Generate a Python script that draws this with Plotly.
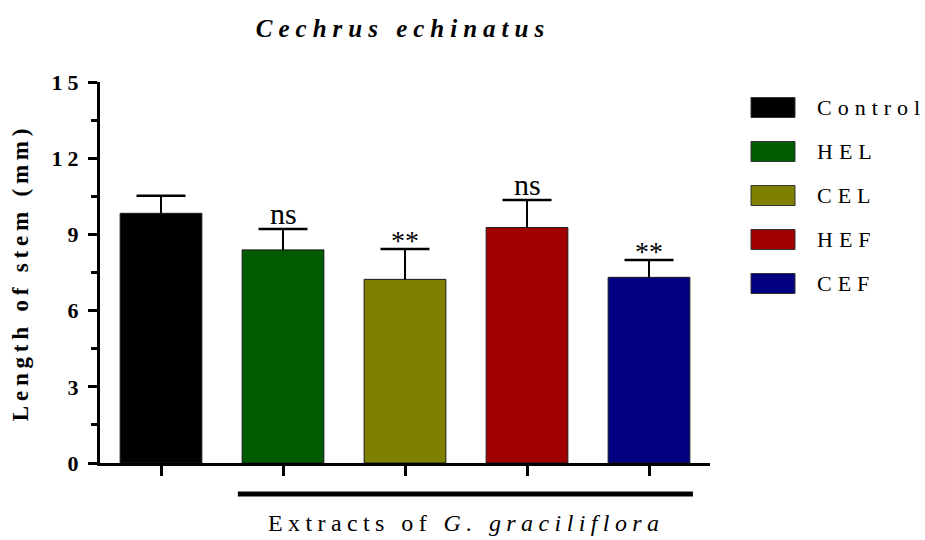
import plotly.graph_objects as go

# ---------------------------------------------------------
# Data
# ---------------------------------------------------------
grupos = ["Control", "HEL", "CEL", "HEF", "CEF"]
medias = [9.83, 8.39, 7.23, 9.27, 7.31]
errores = [0.69, 0.82, 1.20, 1.08, 0.68]
signif = ["", "ns", "**", "ns", "**"]
colores = ["#000000", "#005a00", "#808000", "#a00000", "#000080"]
y_ticks = [0, 3, 6, 9, 12, 15]

FUENTE = "Liberation Serif, Times New Roman, serif"


def espaciado(texto, px):
    # letter spacing like the original (GraphPad style)
    return f'<span style="letter-spacing:{px}px">{texto}</span>'


# plot area in pixels: x 100..710, y 82..463
def px_x(p):
    return (p - 100) / 610


def px_y(p):
    return (463 - p) / 381


fig = go.Figure()

fig.add_trace(go.Bar(
    x=grupos,
    y=medias,
    marker=dict(color=colores, line=dict(color="#1a1a1a", width=1)),
    width=0.67,
    error_y=dict(
        type="data",
        symmetric=False,
        array=errores,
        arrayminus=[0] * len(errores),
        color="black",
        thickness=2,
        width=0
    ),
    showlegend=False
))

# caps of the (upper only) error bars
fig.add_trace(go.Scatter(
    x=grupos,
    y=[m + e for m, e in zip(medias, errores)],
    mode="markers",
    marker=dict(symbol="line-ew-open", size=35, color="black",
                line=dict(color="black", width=2.5)),
    hoverinfo="skip",
    showlegend=False
))

# significance marks above the error bars
for g, m, e, s in zip(grupos, medias, errores, signif):
    if not s:
        continue
    fig.add_annotation(
        x=g, y=m + e, xref="x", yref="y",
        text=s, showarrow=False,
        yanchor="bottom",
        yshift=-9 if s == "**" else -3,
        font=dict(family=FUENTE, size=30 if s == "ns" else 28, color="black")
    )

# custom legend (large swatches)
for i, (g, c) in enumerate(zip(grupos, colores)):
    yc = 107.5 + 44 * i
    fig.add_shape(
        type="rect", xref="paper", yref="paper",
        x0=px_x(751), x1=px_x(795), y0=px_y(yc + 10), y1=px_y(yc - 10),
        fillcolor=c, line=dict(color="#333333", width=1)
    )
    fig.add_annotation(
        xref="paper", yref="paper", x=px_x(815), y=px_y(yc),
        xanchor="left", yanchor="middle", showarrow=False,
        text=espaciado(g, 6),
        font=dict(family=FUENTE, size=22, color="black")
    )

# bracket under the extract groups
fig.add_shape(
    type="line", xref="x", yref="paper",
    x0=0.63, x1=4.36, y0=px_y(494), y1=px_y(494),
    line=dict(color="black", width=5)
)
fig.add_annotation(
    xref="x", yref="paper", x=2.5, y=px_y(523),
    xanchor="center", yanchor="middle", showarrow=False,
    text=espaciado("Extracts of <i>G. graciliflora</i>", 5.4),
    font=dict(family=FUENTE, size=24, color="black")
)

fig.update_layout(
    width=925,
    height=540,
    paper_bgcolor="white",
    plot_bgcolor="white",
    font=dict(family=FUENTE, color="black"),
    margin=dict(l=100, r=215, t=82, b=77),
    title=dict(
        text=espaciado("<b><i>Cechrus echinatus</i></b>", 6),
        x=403 / 925,
        xanchor="center",
        y=1 - 28 / 540,
        yanchor="middle",
        font=dict(family=FUENTE, size=25, color="black")
    ),
    xaxis=dict(
        range=[-0.5, 4.5],
        showline=True,
        linecolor="black",
        linewidth=3,
        ticks="outside",
        ticklen=10,
        tickwidth=3,
        tickcolor="black",
        showticklabels=False,
        showgrid=False,
        zeroline=False,
        automargin=False
    ),
    yaxis=dict(
        range=[0, 15],
        showline=True,
        linecolor="black",
        linewidth=3,
        ticks="outside",
        ticklen=9,
        tickwidth=3,
        tickcolor="black",
        tickvals=y_ticks,
        ticktext=[espaciado(f"<b>{v}</b>", 5) for v in y_ticks],
        tickfont=dict(family=FUENTE, size=22, color="black"),
        minor=dict(dtick=1.5, tick0=0, ticks="outside", ticklen=6,
                   tickwidth=3, tickcolor="black", showgrid=False),
        showgrid=False,
        zeroline=False,
        automargin=False,
        title=dict(
            text=espaciado("<b>Length of stem (mm)</b>", 4.8),
            font=dict(family=FUENTE, size=23, color="black"),
            standoff=17
        )
    )
)

# page body has an 8px default margin; drop it so the figure fills the window
fig.write_html(
    "out.html",
    config={"displayModeBar": False},
    post_script="document.body.style.margin = '0';"
)
